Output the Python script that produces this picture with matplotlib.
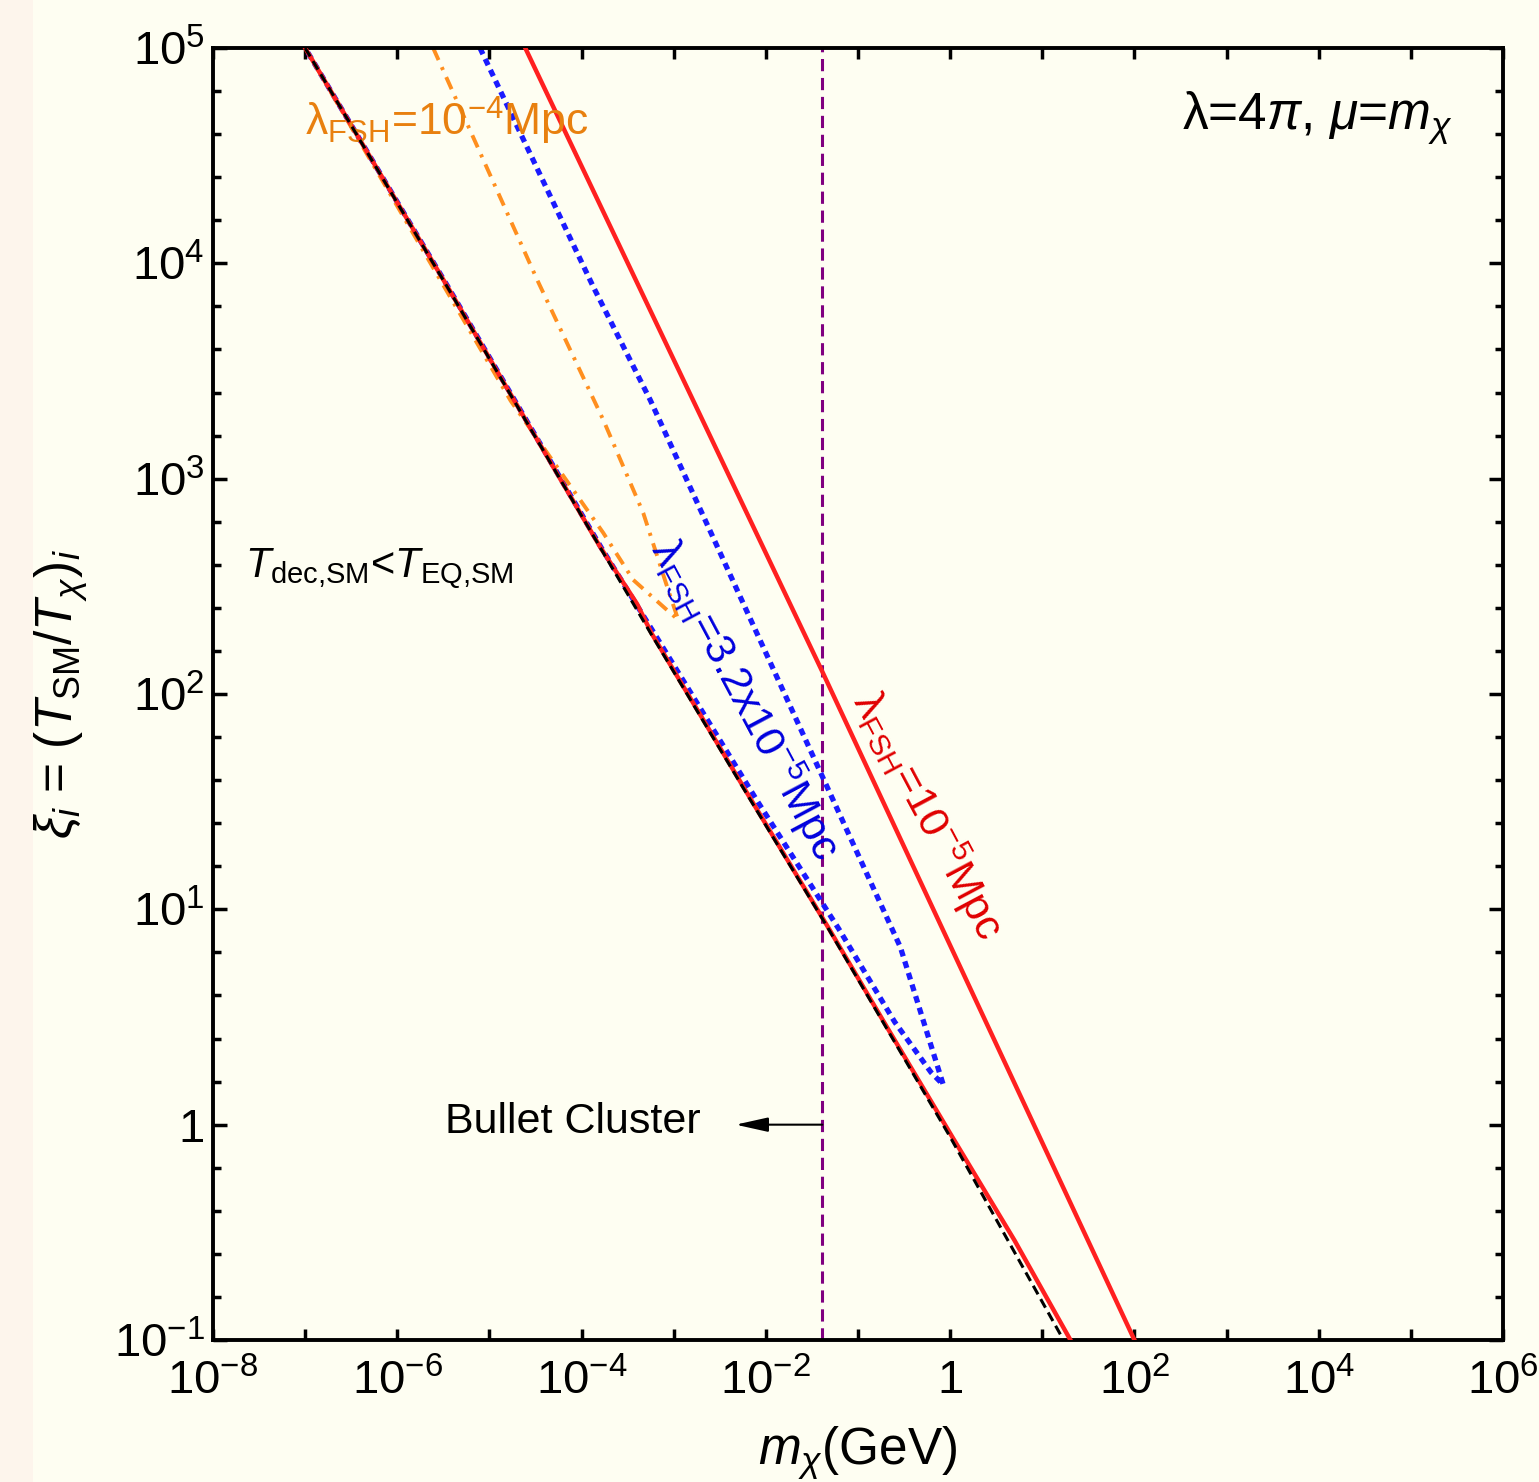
import numpy as np
import matplotlib.pyplot as plt
from matplotlib.ticker import FixedLocator, NullFormatter
from matplotlib.patches import Rectangle

plt.rcParams['font.family'] = ['Liberation Sans', 'DejaVu Sans']
plt.rcParams['mathtext.fontset'] = 'custom'
plt.rcParams['mathtext.rm'] = 'Liberation Sans'
plt.rcParams['mathtext.it'] = 'Liberation Sans:italic'
plt.rcParams['mathtext.bf'] = 'Liberation Sans:bold'

# lambda_FSH = 1e-5 Mpc (upper straight line)
red_hi_m = [2.45e-5, 0.041, 100.0]
red_hi_xi = [1.0e5, 127.0, 0.1]

# T_dec,SM = T_EQ,SM boundary (red solid, wiggly) and black dashed
red_lo_m = [1.0e-7, 3.5e-6, 1.6e-4, 4.0e-4, 5.8e-4, 7.0e-3, 0.047, 0.21, 1.05, 5.0, 20.2]
red_lo_xi = [1.0e5, 7.8e3, 480.0, 262.0, 190.0, 32.0, 8.3, 2.8, 0.88, 0.29, 0.1]
black_m = [1.0e-7, 3.47e-6, 1.58e-4, 5.6e-4, 6.8e-3, 0.0465, 1.0, 17.0]
black_xi = [1.0e5, 7.8e3, 482.0, 192.0, 32.2, 8.28, 0.877, 0.1]

# lambda_FSH = 3.2e-5 Mpc contour (blue dotted)
blue_m = [7.9e-6, 1.34e-4, 5.56e-4, 1.8e-3, 0.288, 0.843,
          0.62, 0.25, 0.062, 8.2e-3, 6.3e-4, 1.65e-4, 3.6e-6, 1.0e-7]
blue_xi = [1.0e5, 7.78e3, 2.32e3, 773.0, 6.68, 1.53,
           1.75, 3.0, 8.1, 31.5, 188.0, 475.0, 7.7e3, 1.0e5]

# lambda_FSH = 1e-4 Mpc contour (orange dot-dashed)
orange_m = [2.45e-6, 3.3e-5, 1.72e-4, 4.67e-4, 8.5e-4, 1.12e-3,
            8.5e-4, 3.63e-4, 1.72e-4, 1.7e-5, 6.6e-7, 1.0e-7]
orange_xi = [1.0e5, 8.38e3, 1.875e3, 693.0, 314.0, 221.0,
             245.0, 339.0, 560.0, 2.3e3, 2.5e4, 1.0e5]

bullet_m = 0.041
x_major = [1e-8, 1e-6, 1e-4, 1e-2, 1, 1e2, 1e4, 1e6]
x_labels = [r'$10^{-8}$', r'$10^{-6}$', r'$10^{-4}$', r'$10^{-2}$', '1',
            r'$10^{2}$', r'$10^{4}$', r'$10^{6}$']
y_major = [1e-1, 1, 1e1, 1e2, 1e3, 1e4, 1e5]
y_labels = [r'$10^{-1}$', '1', r'$10^{1}$', r'$10^{2}$', r'$10^{3}$',
            r'$10^{4}$', r'$10^{5}$']

bg = '#FEFEF2'
fig = plt.figure(figsize=(15.39, 14.82), dpi=100, facecolor=bg)
fig.patches.append(Rectangle((0, 0), 33 / 1539, 1, transform=fig.transFigure,
                             facecolor='#FDF5EC', edgecolor='none', zorder=0))
ax = fig.add_axes([213 / 1539, 142 / 1482, 1290 / 1539, 1292 / 1482])
ax.set_facecolor(bg)
ax.set_xscale('log')
ax.set_yscale('log')
ax.set_xlim(1e-8, 1e6)
ax.set_ylim(0.1, 1e5)

ax.plot(red_lo_m, red_lo_xi, color='#FF2020', lw=3.2, zorder=3)
ax.plot(black_m, black_xi, color='black', lw=2.2, dashes=(3.2, 1.8), zorder=4)
ax.plot(blue_m, blue_xi, color='#1A1AFF', lw=3.8, dashes=(1.3, 1.0), zorder=2)
ax.plot(orange_m, orange_xi, color='#FF8F1F', lw=2.8, dashes=(3.4, 2.0, 0.8, 2.0), zorder=2)
ax.plot(red_hi_m, red_hi_xi, color='#FF2020', lw=3.2, zorder=3)
ax.axvline(bullet_m, color='#800080', lw=2.2, dashes=(4.0, 2.2), zorder=1)

ax.annotate('', xy=(4.7e-3, 1.0), xytext=(bullet_m, 1.0),
            arrowprops=dict(arrowstyle='-|>,head_length=0.9,head_width=0.2',
                            color='black', lw=1.5, mutation_scale=22,
                            shrinkA=0, shrinkB=0))
ax.text(3.3e-6, 1.03, 'Bullet Cluster', fontsize=31, ha='left', va='center')

ax.text(2.25e-8, 380, r'$T_{\rm dec{,}SM}$<$T_{\rm EQ{,}SM}$', fontsize=30,
        ha='left', va='center')
ax.text(0.9605, 0.946, 'λ=4$\\pi$, $\\mu$=$m_\\chi$', transform=ax.transAxes,
        fontsize=37, ha='right', va='center')
ax.text(1.0e-7, 4.6e4, 'λ$_{\\rm FSH}$=10$^{-4}$Mpc', fontsize=32,
        color='#E8800F', ha='left', va='center')
ax.text(5.97e-3, 94, 'λ$_{\\rm FSH}$=3.2x10$^{-5}$Mpc', fontsize=31,
        color='#0000DD', ha='center', va='center', rotation=-62,
        rotation_mode='anchor')
ax.text(0.58, 27.4, 'λ$_{\\rm FSH}$=10$^{-5}$Mpc', fontsize=31,
        color='#E00000', ha='center', va='center', rotation=-62,
        rotation_mode='anchor')

ax.set_xlabel(r'$m_\chi$(GeV)', fontsize=37, labelpad=14)
ax.set_ylabel(r'$\xi_i$ = ($T_{\rm SM}$/$T_\chi$)$_i$', fontsize=37, labelpad=18)

ax.xaxis.set_major_locator(FixedLocator([10.0 ** k for k in range(-8, 7)]))
ax.set_xticklabels(['' if k % 2 else x_labels[(k + 8) // 2] for k in range(-8, 7)])
ax.xaxis.set_minor_locator(FixedLocator([]))
ax.yaxis.set_major_locator(FixedLocator(y_major))
ax.set_yticklabels(y_labels)
ax.yaxis.set_minor_locator(FixedLocator([10.0 ** (k + 0.2 * j) for k in range(-1, 5) for j in range(1, 5)]))
ax.yaxis.set_minor_formatter(NullFormatter())

ax.tick_params(which='both', direction='in', top=True, right=True, width=2.5,
               labelsize=34, color='black')
ax.tick_params(axis='x', which='major', length=8, pad=14)
ax.tick_params(axis='y', which='major', length=10, pad=6)
ax.tick_params(axis='y', which='minor', length=6)
for s in ax.spines.values():
    s.set_linewidth(2.8)

fig.savefig('out.png', dpi=100, facecolor=bg)
